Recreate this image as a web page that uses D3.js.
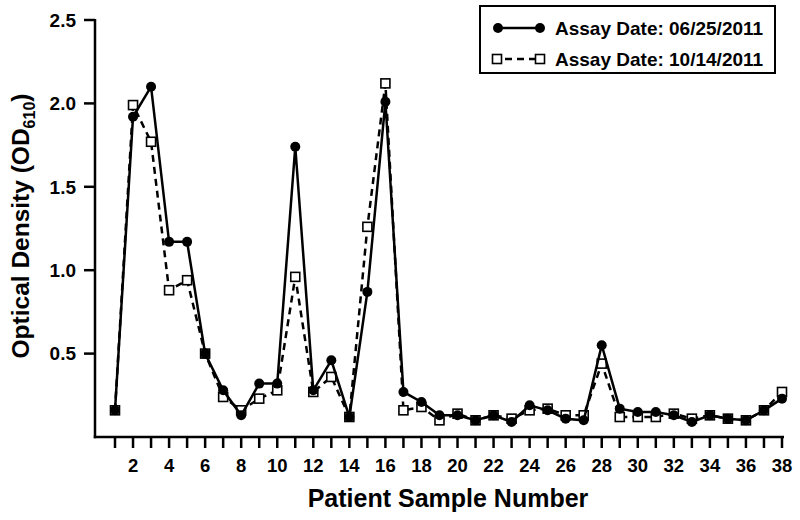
<!DOCTYPE html>
<html>
<head>
<meta charset="utf-8">
<script src="https://cdn.jsdelivr.net/npm/d3@7"></script>
<style>
  body { margin: 0; background: #fff; }
  svg text { font-family: "Liberation Sans", Arial, Helvetica, sans-serif; font-weight: bold; fill: #000; }
</style>
</head>
<body>
<div id="chart"></div>
<script>
// sample numbers 1..38
var samples = d3.range(1, 39);
var od_june = [0.16, 1.92, 2.10, 1.17, 1.17, 0.50, 0.28, 0.13, 0.32, 0.32,
               1.74, 0.28, 0.46, 0.12, 0.87, 2.01, 0.27, 0.21, 0.13, 0.13,
               0.10, 0.13, 0.09, 0.19, 0.16, 0.11, 0.10, 0.55, 0.17, 0.15,
               0.15, 0.13, 0.09, 0.13, 0.11, 0.10, 0.16, 0.23];
var od_oct  = [0.16, 1.99, 1.77, 0.88, 0.94, 0.50, 0.24, 0.16, 0.23, 0.28,
               0.96, 0.27, 0.36, 0.12, 1.26, 2.12, 0.16, 0.18, 0.10, 0.14,
               0.10, 0.13, 0.11, 0.16, 0.17, 0.13, 0.13, 0.44, 0.12, 0.12,
               0.12, 0.14, 0.11, 0.13, 0.11, 0.10, 0.16, 0.27];
var y_ticks = [0.5, 1.0, 1.5, 2.0, 2.5];
var legend_labels = ["Assay Date: 06/25/2011", "Assay Date: 10/14/2011"];

var width = 800, height = 520;
var svg = d3.select("#chart").append("svg").attr("width", width).attr("height", height);

var x = d3.scaleLinear().domain([1, 38]).range([115, 782]);
var y = d3.scaleLinear().domain([0, 2.5]).range([437, 20]);

// axes lines
var axes = svg.append("g").attr("stroke", "#000").attr("stroke-width", 2.5).attr("fill", "none");
axes.append("line").attr("x1", 95).attr("x2", 95).attr("y1", y(2.5) - 1).attr("y2", y(0) + 1.25);
axes.append("line").attr("x1", 95 - 1.25).attr("x2", 784).attr("y1", y(0)).attr("y2", y(0));

// y ticks
var yt = svg.append("g");
yt.selectAll("line").data(y_ticks).enter().append("line")
  .attr("x1", 84).attr("x2", 95).attr("y1", function(d) { return y(d); }).attr("y2", function(d) { return y(d); })
  .attr("stroke", "#000").attr("stroke-width", 2.5);
yt.selectAll("text").data(y_ticks).enter().append("text")
  .attr("x", 76).attr("y", function(d) { return y(d); }).attr("dy", "0.36em")
  .attr("text-anchor", "end").style("font-size", "19px")
  .text(function(d) { return d3.format(".1f")(d); });

// x ticks
var xt = svg.append("g");
xt.selectAll("line").data(samples).enter().append("line")
  .attr("x1", function(d) { return x(d); }).attr("x2", function(d) { return x(d); })
  .attr("y1", y(0)).attr("y2", y(0) + 11)
  .attr("stroke", "#000").attr("stroke-width", 2.5);
xt.selectAll("text").data(samples.filter(function(d) { return d % 2 == 0; })).enter().append("text")
  .attr("x", function(d) { return x(d); }).attr("y", 472)
  .attr("text-anchor", "middle").style("font-size", "18.5px")
  .text(function(d) { return d; });

// axis titles
svg.append("text").attr("x", 448).attr("y", 507).attr("text-anchor", "middle")
  .style("font-size", "25px").text("Patient Sample Number");
var ylab = svg.append("text").attr("transform", "translate(29,226) rotate(-90)")
  .attr("text-anchor", "middle").style("font-size", "24.5px");
ylab.append("tspan").text("Optical Density (OD");
ylab.append("tspan").attr("dy", 6).style("font-size", "16px").text("610");
ylab.append("tspan").attr("dy", -6).text(")");

// series
function pts(vals) { return vals.map(function(v, i) { return [samples[i], v]; }); }
var line = d3.line().x(function(d) { return x(d[0]); }).y(function(d) { return y(d[1]); });

var s2 = svg.append("g");
s2.append("path").datum(pts(od_oct)).attr("d", line)
  .attr("fill", "none").attr("stroke", "#000").attr("stroke-width", 2.5).attr("stroke-dasharray", "7,5");
s2.selectAll("rect").data(pts(od_oct)).enter().append("rect")
  .attr("x", function(d) { return x(d[0]) - 4.5; }).attr("y", function(d) { return y(d[1]) - 4.5; })
  .attr("width", 9).attr("height", 9)
  .attr("fill", "#fff").attr("stroke", "#000").attr("stroke-width", 1.6);

var s1 = svg.append("g");
s1.append("path").datum(pts(od_june)).attr("d", line)
  .attr("fill", "none").attr("stroke", "#000").attr("stroke-width", 2.5);
s1.selectAll("circle").data(pts(od_june)).enter().append("circle")
  .attr("cx", function(d) { return x(d[0]); }).attr("cy", function(d) { return y(d[1]); })
  .attr("r", 5).attr("fill", "#000");

// legend
var lg = svg.append("g");
lg.append("rect").attr("x", 480).attr("y", 6).attr("width", 295).attr("height", 67)
  .attr("fill", "#fff").attr("stroke", "#000").attr("stroke-width", 2);
var row1 = 28, row2 = 59;
lg.append("line").attr("x1", 498).attr("x2", 540).attr("y1", row1).attr("y2", row1)
  .attr("stroke", "#000").attr("stroke-width", 2.5);
lg.selectAll("circle").data([498, 540]).enter().append("circle")
  .attr("cx", function(d) { return d; }).attr("cy", row1).attr("r", 5).attr("fill", "#000");
lg.append("line").attr("x1", 502).attr("x2", 536).attr("y1", row2).attr("y2", row2)
  .attr("stroke", "#000").attr("stroke-width", 2.5).attr("stroke-dasharray", "7,5").attr("stroke-dashoffset", -3);
lg.selectAll("rect.mk").data([497, 540]).enter().append("rect").attr("class", "mk")
  .attr("x", function(d) { return d - 4.5; }).attr("y", row2 - 4.5).attr("width", 9).attr("height", 9)
  .attr("fill", "#fff").attr("stroke", "#000").attr("stroke-width", 1.6);
lg.selectAll("text").data(legend_labels).enter().append("text")
  .attr("x", 555).attr("y", function(d, i) { return i == 0 ? row1 : row2; }).attr("dy", "0.36em")
  .style("font-size", "19px").text(function(d) { return d; });
</script>
</body>
</html>
